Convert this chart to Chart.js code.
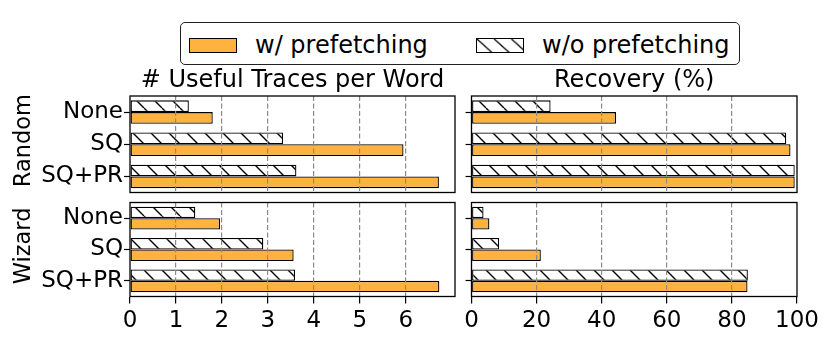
<!DOCTYPE html>
<html>
<head>
<meta charset="utf-8">
<script src="https://cdn.jsdelivr.net/npm/chart.js@4"></script>
<style>
body { margin:0; background:#fff; }
#wrap { position:relative; width:830px; height:344px; font-family:"DejaVu Sans"; color:#000; }
#wrap canvas.plot { position:absolute; left:0; top:0; }
.txt { position:absolute; font-size:24px; line-height:24px; white-space:nowrap; }
.colTitle { text-align:center; top:67px; }
#legend { position:absolute; left:179.5px; top:21.5px; width:560px; height:43px; border:1.3px solid #222; border-radius:5px; box-sizing:border-box; background:#fff; }
.swatch { position:absolute; top:38px; width:48px; height:15px; box-sizing:border-box; border:1.4px solid #000; }
</style>
</head>
<body>
<div id="wrap">
  <canvas class="plot" id="randTraces" width="830" height="344"></canvas>
  <canvas class="plot" id="randRecovery" width="830" height="344"></canvas>
  <canvas class="plot" id="wizTraces" width="830" height="344"></canvas>
  <canvas class="plot" id="wizRecovery" width="830" height="344"></canvas>

  <div id="legend"></div>
  <div class="swatch" style="left:188.5px;background:#ffb33e;"></div>
  <div class="txt" style="left:255px;top:32.5px;">w/ prefetching</div>
  <canvas class="swatch" id="hatchSwatch" width="48" height="15" style="left:476px;"></canvas>
  <div class="txt" style="left:542px;top:32.5px;">w/o prefetching</div>

  <div class="txt colTitle" style="left:130px;width:325px;"># Useful Traces per Word</div>
  <div class="txt colTitle" style="left:471.5px;width:325.5px;">Recovery (%)</div>
</div>
<script>
// ---------- data ----------
const categories = ["None", "SQ", "SQ+PR"];

const randomTracesWith    = [1.80, 5.95, 6.72];
const randomTracesWithout = [1.28, 3.33, 3.62];
const wizardTracesWith    = [1.96, 3.56, 6.73];
const wizardTracesWithout = [1.42, 2.90, 3.59];

const randomRecoveryWith    = [44.4, 98.0, 99.3];
const randomRecoveryWithout = [24.3, 96.7, 99.3];
const wizardRecoveryWith    = [5.5, 21.3, 84.8];
const wizardRecoveryWithout = [3.7, 8.5, 84.9];

const tracesTicks   = [0, 1, 2, 3, 4, 5, 6];
const recoveryTicks = [0, 20, 40, 60, 80, 100];

// ---------- styles ----------
const orange = "#ffb33e";
const tickFont = { family: "DejaVu Sans", size: 23 };
const rowFont = { family: "DejaVu Sans", size: 22.5 };

function makeHatch() {
    const s = 18;
    const c = document.createElement("canvas");
    c.width = s; c.height = s;
    const g = c.getContext("2d");
    g.fillStyle = "#fff";
    g.fillRect(0, 0, s, s);
    g.strokeStyle = "#000";
    g.lineWidth = 1.4;
    g.beginPath();
    for (let k = -1; k <= 1; k++) {
        g.moveTo(k * s, 0);
        g.lineTo(k * s + s, s);
    }
    g.stroke();
    return g.createPattern(c, "repeat");
}
const hatch = makeHatch();

// legend swatch
(function () {
    const sc = document.getElementById("hatchSwatch").getContext("2d");
    sc.fillStyle = hatch;
    sc.fillRect(0, 0, 48, 15);
})();

// box around each plot area
const frame = {
    id: "frame",
    afterDraw(chart) {
        const a = chart.chartArea, c = chart.ctx;
        c.save();
        c.strokeStyle = "#000";
        c.lineWidth = 1.3;
        c.strokeRect(a.left, a.top, a.right - a.left, a.bottom - a.top);
        c.restore();
    }
};

function barChart(id, o) {
    return new Chart(document.getElementById(id), {
        type: "bar",
        data: {
            labels: categories,
            datasets: [{
                label: "w/o prefetching",
                data: o.without,
                backgroundColor: hatch,
                borderColor: "#000",
                borderWidth: 1.3
            }, {
                label: "w/ prefetching",
                data: o.with,
                backgroundColor: orange,
                borderColor: "#000",
                borderWidth: 1.3
            }]
        },
        options: {
            indexAxis: "y",
            responsive: false,
            animation: false,
            layout: { padding: o.padding },
            datasets: {
                bar: { categoryPercentage: 0.73, barPercentage: 1, borderSkipped: false }
            },
            plugins: {
                legend: { display: false },
                tooltip: { enabled: false }
            },
            scales: {
                x: {
                    type: "linear",
                    min: 0,
                    max: o.max,
                    afterBuildTicks: s => { s.ticks = o.ticks.map(v => ({ value: v })); },
                    afterFit: s => { s.height = o.showX ? 40 : 0; },
                    grid: {
                        z: 1,
                        color: c => (c.tick && c.tick.value > 0 && c.tick.value < o.max) ? "#8a8a8a" : "rgba(0,0,0,0)",
                        lineWidth: 1.2,
                        drawTicks: o.showX,
                        tickLength: 7,
                        tickColor: "#000",
                        tickWidth: 1.2
                    },
                    border: { display: false, dash: [5, 2.5] },
                    ticks: { display: o.showX, color: "#000", font: tickFont, padding: 4, maxRotation: 0 }
                },
                y: {
                    type: "category",
                    offset: true,
                    afterFit: s => { s.width = o.yWidth; },
                    grid: {
                        offset: false,
                        drawOnChartArea: false,
                        drawTicks: true,
                        tickLength: 6,
                        tickColor: "#000",
                        tickWidth: 1.2
                    },
                    border: { display: false },
                    ticks: { display: o.showY, color: "#000", font: tickFont, padding: 1 },
                    title: {
                        display: !!o.row,
                        text: o.row || "",
                        color: "#000",
                        font: rowFont,
                        padding: { top: 11, bottom: 0 }
                    }
                }
            }
        },
        plugins: [frame]
    });
}

// =========================
// RANDOM
// =========================
barChart("randTraces", {
    with: randomTracesWith, without: randomTracesWithout,
    max: 7.07, ticks: tracesTicks, showX: false, showY: true, yWidth: 130, row: " Random",
    padding: { left: 0, right: 375, top: 96, bottom: 151.5 }
});
barChart("randRecovery", {
    with: randomRecoveryWith, without: randomRecoveryWithout,
    max: 100, ticks: recoveryTicks, showX: false, showY: false, yWidth: 10,
    padding: { left: 461.5, right: 33, top: 96, bottom: 151.5 }
});

// =========================
// WIZARD
// =========================
barChart("wizTraces", {
    with: wizardTracesWith, without: wizardTracesWithout,
    max: 7.07, ticks: tracesTicks, showX: true, showY: true, yWidth: 130, row: " Wizard",
    padding: { left: 0, right: 375, top: 202.5, bottom: 7.5 }
});
barChart("wizRecovery", {
    with: wizardRecoveryWith, without: wizardRecoveryWithout,
    max: 100, ticks: recoveryTicks, showX: true, showY: false, yWidth: 10,
    padding: { left: 461.5, right: 33, top: 202.5, bottom: 7.5 }
});
</script>
</body>
</html>
